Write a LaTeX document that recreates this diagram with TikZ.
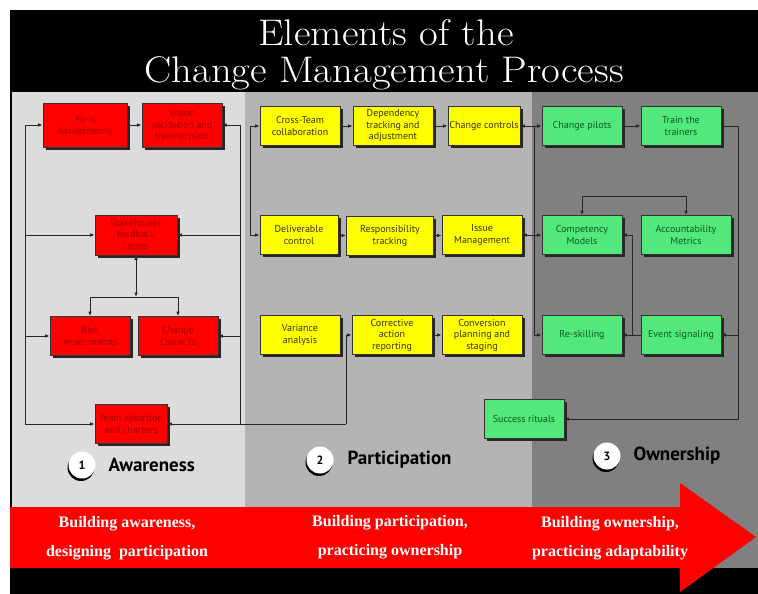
\documentclass[tikz,border=0pt]{standalone}
\usepackage{fontspec}
\setsansfont{PT Sans}
\newfontfamily\bandfont{Liberation Serif}
\usetikzlibrary{arrows.meta,shadows}

\definecolor{paneA}{HTML}{DCDCDC}
\definecolor{paneB}{HTML}{B4B4B4}
\definecolor{paneC}{HTML}{808080}
\definecolor{boxred}{HTML}{FF0000}
\definecolor{boxyellow}{HTML}{FFFF00}
\definecolor{boxgreen}{HTML}{52E87C}
\definecolor{txtred}{HTML}{A00000}
\definecolor{txtyellow}{HTML}{3A3300}
\definecolor{txtgreen}{HTML}{0B5A1E}
\definecolor{wire}{HTML}{262626}

\begin{document}
\begin{tikzpicture}[x=1pt,y=-1pt,
    proc/.style={draw=black!80,line width=0.6pt,align=center,inner sep=1pt,
      minimum width=80pt,minimum height=39pt,font=\sffamily\fontsize{10}{11.5}\selectfont,
      drop shadow={shadow xshift=2.5pt,shadow yshift=-2.5pt,opacity=1,fill=black!85}},
    aw/.style={proc,fill=boxred,text=txtred},
    pa/.style={proc,fill=boxyellow,text=txtyellow},
    ow/.style={proc,fill=boxgreen,text=txtgreen},
    link/.style={draw=wire,line width=0.9pt},
    >={Latex[length=4.5pt,width=3.5pt]},
    num/.style={circle,fill=white,minimum size=27pt,inner sep=0pt,
      font=\sffamily\bfseries\fontsize{12}{12}\selectfont,
      drop shadow={shadow xshift=-1pt,shadow yshift=-2.5pt,opacity=1,fill=black}},
    phase/.style={anchor=west,font=\sffamily\bfseries\fontsize{19}{22}\selectfont},
    band/.style={align=center,text=white,font=\bandfont\bfseries\fontsize{16}{29}\selectfont},
    heading/.style={text=white,font=\fontsize{37}{40}\selectfont}]

\useasboundingbox (0,0) rectangle (758,594);
\fill[white] (0,0) rectangle (758,594);
\fill[black] (10,10) rectangle (758,594);

% three phase panels
\fill[paneA] (12,92) rectangle (245,507);
\fill[paneB] (245,92) rectangle (532,507);
\fill[paneC] (532,92) rectangle (758,568);

\node[heading] (title) at (386,33) {\scalebox{1.1}[1]{Elements of the}};
\node[heading] (subtitle) at (384,73) {\scalebox{1.1}[1]{Change Management Process}};

% awareness
\node[aw,minimum width=84pt,minimum height=44pt] (asis) at (85,125) {As-Is\\Assessments};
\node[aw,minimum height=44pt] (vision) at (182,125) {Vision\\validation and\\transmission};
\node[aw,minimum width=82pt,minimum height=40pt] (stake) at (136,235) {Stakeholder\\feedback\\loops};
\node[aw] (risk) at (90,336) {Risk\\Assessments};
\node[aw] (council) at (178,336) {Change\\Councils};
\node[aw,minimum width=72pt] (team) at (131,424) {Team selection\\and charters};

% participation
\node[pa] (cross) at (300,126) {Cross-Team\\collaboration};
\node[pa] (depend) at (393,126) {Dependency\\tracking and\\adjustment};
\node[pa,minimum width=72pt] (ctrl) at (484,126) {Change controls};
\node[pa,minimum width=78pt] (deliv) at (299,235) {Deliverable\\control};
\node[pa,minimum width=87pt] (resp) at (390,236) {Responsibility\\tracking};
\node[pa] (issue) at (482,235) {Issue\\Management};
\node[pa] (variance) at (300,335) {Variance\\analysis};
\node[pa] (correct) at (392,335) {Corrective\\action\\reporting};
\node[pa] (convert) at (482,335) {Conversion\\planning and\\staging};

% ownership
\node[ow] (pilots) at (582,126) {Change pilots};
\node[ow] (trainers) at (681,126) {Train the\\trainers};
\node[ow] (compet) at (582,235) {Competency\\Models};
\node[ow,minimum width=90pt] (account) at (686,235) {Accountability\\Metrics};
\node[ow] (reskill) at (582,335) {Re-skilling};
\node[ow] (event) at (681,335) {Event signaling};
\node[ow] (rituals) at (524,419) {Success rituals};

% rails around the awareness boxes
\coordinate (awl) at (25,125);
\coordinate (awlb) at (25,424);
\coordinate (awr) at (240,125);
\coordinate (awrb) at (240,424);
\coordinate (fork) at (136,297);
\coordinate (jog) at (346,424);
\draw[link] (awl) -- (awlb);
\draw[link] (awr) -- (awrb);
\draw[link,->] (awl) -- (asis);
\draw[link,->] (awl |- stake) -- (stake);
\draw[link,->] (awl |- risk) -- (risk);
\draw[link,->] (awlb) -- (team);
\draw[link,->] (awr) -- (vision);
\draw[link,->] (awr |- stake) -- (stake);
\draw[link,->] (awr |- council) -- (council);
\draw[link,->] (awrb) -- (team);
\draw[link,->] (asis) -- (vision);
\draw[link,<->] (stake) -- (fork);
\draw[link,->] (fork) -| (risk);
\draw[link,->] (fork) -| (council);
\draw[link] (awrb) -- (jog);
\draw[link,->] (jog) |- (correct);

% participation chains
\coordinate (pal) at (250,126);
\draw[link,->] (pal) -- (cross);
\draw[link,->] (pal) |- (deliv);
\draw[link,->] (cross) -- (depend);
\draw[link,->] (depend) -- (ctrl);
\draw[link,->] (deliv) -- (resp);
\draw[link,->] (resp) -- (issue);
\draw[link,->] (correct) -- (convert);

% hand-over to ownership
\coordinate (owl) at (534,126);
\draw[link,<->] (ctrl) -- (pilots);
\draw[link,<->] (issue) -- (compet);
\draw[link,->] (owl) |- (reskill);

\coordinate (owr) at (738,419);
\coordinate (owm) at (632,335);
\draw[link,->] (pilots) -- (trainers);
\draw[link,->] (trainers) -| (owr) -- (rituals);
\draw[link,->] (owr |- event) -- (event);
\draw[link,->] (event) -- (reskill);
\draw[link,->] (owm) |- (compet);
\draw[link,<->] (compet.north) -- ++(0,-19) -| (account.north);

% phase headings
\node[num] (n1) at (82,465) {1};
\node[phase] (awlabel) at (105,465) {Awareness};
\node[num] (n2) at (320,460) {2};
\node[phase] (palabel) at (344,460) {Participation};
\node[num] (n3) at (607,456) {3};
\node[phase] (owlabel) at (630,456) {Ownership};

% big arrow along the bottom
\fill[boxred] (10,507) -- (680,507) -- (680,483) -- (756,537) -- (680,592)
  -- (680,568) -- (10,568) -- cycle;
\node[band] (bt1) at (127,538) {Building awareness,\\designing~~participation};
\node[band] (bt2) at (390,537) {Building participation,\\practicing ownership};
\node[band] (bt3) at (610,538) {Building ownership,\\practicing adaptability};
\end{tikzpicture}
\end{document}
